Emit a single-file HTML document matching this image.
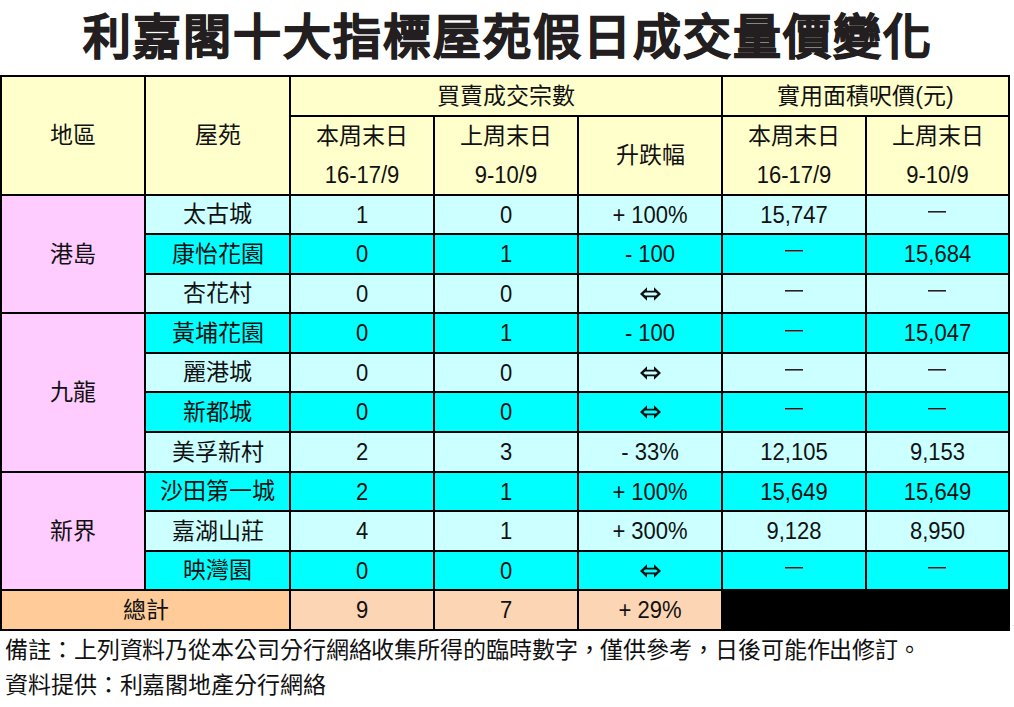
<!DOCTYPE html>
<html lang="zh-TW"><head><meta charset="utf-8"><style>
html,body{margin:0;padding:0;background:#fff;}
body{width:1014px;height:707px;position:relative;overflow:hidden;font-family:"Liberation Sans",sans-serif;color:#111;}
.r{position:absolute;}
.t,.n,.d,.a{position:absolute;text-align:center;white-space:nowrap;}
.t{font-size:23px;}
.n{font-size:22px;}
.n span{display:inline-block;transform:scaleY(1.1);}
.ar{position:absolute;}
.d{font-size:20px;}
.a{font-size:20px;font-weight:bold;}
.title{position:absolute;left:83px;top:8px;font-size:48px;letter-spacing:2px;font-weight:900;color:#231f20;-webkit-text-stroke:0.9px #231f20;white-space:nowrap;line-height:60px;}
.note{position:absolute;left:5px;font-size:23px;letter-spacing:-0.1px;white-space:nowrap;color:#111;}
</style></head>
<body>
<div class="title">利嘉閣十大指標屋苑假日成交量價變化</div>
<div class="r" style="left:0px;top:75px;width:1010px;height:119px;background:#FFFFCC"></div><div class="r" style="left:0px;top:194px;width:144px;height:395px;background:#FFCCFF"></div><div class="r" style="left:144px;top:194px;width:866px;height:39px;background:#CCFFFF"></div><div class="r" style="left:144px;top:233px;width:866px;height:40px;background:#00FFFF"></div><div class="r" style="left:144px;top:273px;width:866px;height:39px;background:#CCFFFF"></div><div class="r" style="left:144px;top:312px;width:866px;height:40px;background:#00FFFF"></div><div class="r" style="left:144px;top:352px;width:866px;height:39px;background:#CCFFFF"></div><div class="r" style="left:144px;top:391px;width:866px;height:40px;background:#00FFFF"></div><div class="r" style="left:144px;top:431px;width:866px;height:40px;background:#CCFFFF"></div><div class="r" style="left:144px;top:471px;width:866px;height:39px;background:#00FFFF"></div><div class="r" style="left:144px;top:510px;width:866px;height:40px;background:#CCFFFF"></div><div class="r" style="left:144px;top:550px;width:866px;height:39px;background:#00FFFF"></div><div class="r" style="left:0px;top:589px;width:289px;height:42px;background:#FFCC99"></div><div class="r" style="left:289px;top:589px;width:432px;height:42px;background:#FCD5B4"></div><div class="r" style="left:721px;top:589px;width:289px;height:42px;background:#000"></div><div class="r" style="left:0px;top:75px;width:1010px;height:2px;background:#000"></div><div class="r" style="left:289px;top:115px;width:721px;height:2px;background:#000"></div><div class="r" style="left:0px;top:194px;width:1010px;height:2px;background:#000"></div><div class="r" style="left:144px;top:233px;width:866px;height:2px;background:#000"></div><div class="r" style="left:144px;top:273px;width:866px;height:2px;background:#000"></div><div class="r" style="left:0px;top:312px;width:1010px;height:2px;background:#000"></div><div class="r" style="left:144px;top:352px;width:866px;height:2px;background:#000"></div><div class="r" style="left:144px;top:391px;width:866px;height:2px;background:#000"></div><div class="r" style="left:144px;top:431px;width:866px;height:2px;background:#000"></div><div class="r" style="left:0px;top:471px;width:1010px;height:2px;background:#000"></div><div class="r" style="left:144px;top:510px;width:866px;height:2px;background:#000"></div><div class="r" style="left:144px;top:550px;width:866px;height:2px;background:#000"></div><div class="r" style="left:0px;top:589px;width:1010px;height:2px;background:#000"></div><div class="r" style="left:0px;top:629px;width:1010px;height:2px;background:#000"></div><div class="r" style="left:0px;top:75px;width:2px;height:556px;background:#000"></div><div class="r" style="left:144px;top:75px;width:2px;height:514px;background:#000"></div><div class="r" style="left:289px;top:75px;width:2px;height:554px;background:#000"></div><div class="r" style="left:433px;top:115px;width:2px;height:514px;background:#000"></div><div class="r" style="left:577px;top:115px;width:2px;height:514px;background:#000"></div><div class="r" style="left:721px;top:75px;width:2px;height:554px;background:#000"></div><div class="r" style="left:865px;top:115px;width:2px;height:474px;background:#000"></div><div class="r" style="left:1008px;top:75px;width:2px;height:556px;background:#000"></div><div class="t" style="left:2px;top:77px;width:142px;height:117px;line-height:117px">地區</div><div class="t" style="left:146px;top:77px;width:143px;height:117px;line-height:117px">屋苑</div><div class="t" style="left:291px;top:77px;width:430px;height:38px;line-height:38px">買賣成交宗數</div><div class="t" style="left:723px;top:77px;width:285px;height:38px;line-height:38px">實用面積呎價(元)</div><div class="t" style="left:291px;top:117px;width:142px;height:38px;line-height:38px">本周末日</div><div class="n" style="left:291px;top:155px;width:142px;height:39px;line-height:39px"><span>16-17/9</span></div><div class="t" style="left:435px;top:117px;width:142px;height:38px;line-height:38px">上周末日</div><div class="n" style="left:435px;top:155px;width:142px;height:39px;line-height:39px"><span>9-10/9</span></div><div class="t" style="left:723px;top:117px;width:142px;height:38px;line-height:38px">本周末日</div><div class="n" style="left:723px;top:155px;width:142px;height:39px;line-height:39px"><span>16-17/9</span></div><div class="t" style="left:867px;top:117px;width:141px;height:38px;line-height:38px">上周末日</div><div class="n" style="left:867px;top:155px;width:141px;height:39px;line-height:39px"><span>9-10/9</span></div><div class="t" style="left:579px;top:117px;width:142px;height:77px;line-height:77px">升跌幅</div><div class="t" style="left:146px;top:196px;width:143px;height:37px;line-height:37px">太古城</div><div class="n" style="left:291px;top:196px;width:142px;height:37px;line-height:37px"><span>1</span></div><div class="n" style="left:435px;top:196px;width:142px;height:37px;line-height:37px"><span>0</span></div><div class="n" style="left:579px;top:196px;width:142px;height:37px;line-height:37px"><span>+ 100%</span></div><div class="n" style="left:723px;top:196px;width:142px;height:37px;line-height:37px"><span>15,747</span></div><div class="r" style="left:928px;top:211px;width:18px;height:2px;background:linear-gradient(#222 0 50%, #777 50% 100%)"></div><div class="t" style="left:146px;top:235px;width:143px;height:38px;line-height:38px">康怡花園</div><div class="n" style="left:291px;top:235px;width:142px;height:38px;line-height:38px"><span>0</span></div><div class="n" style="left:435px;top:235px;width:142px;height:38px;line-height:38px"><span>1</span></div><div class="n" style="left:579px;top:235px;width:142px;height:38px;line-height:38px"><span>- 100</span></div><div class="r" style="left:785px;top:250px;width:18px;height:2px;background:linear-gradient(#222 0 50%, #777 50% 100%)"></div><div class="n" style="left:867px;top:235px;width:141px;height:38px;line-height:38px"><span>15,684</span></div><div class="t" style="left:146px;top:275px;width:143px;height:37px;line-height:37px">杏花村</div><div class="n" style="left:291px;top:275px;width:142px;height:37px;line-height:37px"><span>0</span></div><div class="n" style="left:435px;top:275px;width:142px;height:37px;line-height:37px"><span>0</span></div><svg class="ar" style="left:639.5px;top:286.8px" width="21" height="14" viewBox="0 0 21 13.4"><path fill="#111" fill-rule="evenodd" d="M0,6.7 L7,0 L7,3.5 L14,3.5 L14,0 L21,6.7 L14,13.4 L14,9.9 L7,9.9 L7,13.4 Z M3.3,6.7 L5.3,5.3 L15.7,5.3 L17.7,6.7 L15.7,8.1 L5.3,8.1 Z"/></svg><div class="r" style="left:785px;top:290px;width:18px;height:2px;background:linear-gradient(#222 0 50%, #777 50% 100%)"></div><div class="r" style="left:928px;top:290px;width:18px;height:2px;background:linear-gradient(#222 0 50%, #777 50% 100%)"></div><div class="t" style="left:146px;top:314px;width:143px;height:38px;line-height:38px">黃埔花園</div><div class="n" style="left:291px;top:314px;width:142px;height:38px;line-height:38px"><span>0</span></div><div class="n" style="left:435px;top:314px;width:142px;height:38px;line-height:38px"><span>1</span></div><div class="n" style="left:579px;top:314px;width:142px;height:38px;line-height:38px"><span>- 100</span></div><div class="r" style="left:785px;top:330px;width:18px;height:2px;background:linear-gradient(#222 0 50%, #777 50% 100%)"></div><div class="n" style="left:867px;top:314px;width:141px;height:38px;line-height:38px"><span>15,047</span></div><div class="t" style="left:146px;top:354px;width:143px;height:37px;line-height:37px">麗港城</div><div class="n" style="left:291px;top:354px;width:142px;height:37px;line-height:37px"><span>0</span></div><div class="n" style="left:435px;top:354px;width:142px;height:37px;line-height:37px"><span>0</span></div><svg class="ar" style="left:639.5px;top:365.8px" width="21" height="14" viewBox="0 0 21 13.4"><path fill="#111" fill-rule="evenodd" d="M0,6.7 L7,0 L7,3.5 L14,3.5 L14,0 L21,6.7 L14,13.4 L14,9.9 L7,9.9 L7,13.4 Z M3.3,6.7 L5.3,5.3 L15.7,5.3 L17.7,6.7 L15.7,8.1 L5.3,8.1 Z"/></svg><div class="r" style="left:785px;top:369px;width:18px;height:2px;background:linear-gradient(#222 0 50%, #777 50% 100%)"></div><div class="r" style="left:928px;top:369px;width:18px;height:2px;background:linear-gradient(#222 0 50%, #777 50% 100%)"></div><div class="t" style="left:146px;top:393px;width:143px;height:38px;line-height:38px">新都城</div><div class="n" style="left:291px;top:393px;width:142px;height:38px;line-height:38px"><span>0</span></div><div class="n" style="left:435px;top:393px;width:142px;height:38px;line-height:38px"><span>0</span></div><svg class="ar" style="left:639.5px;top:405.3px" width="21" height="14" viewBox="0 0 21 13.4"><path fill="#111" fill-rule="evenodd" d="M0,6.7 L7,0 L7,3.5 L14,3.5 L14,0 L21,6.7 L14,13.4 L14,9.9 L7,9.9 L7,13.4 Z M3.3,6.7 L5.3,5.3 L15.7,5.3 L17.7,6.7 L15.7,8.1 L5.3,8.1 Z"/></svg><div class="r" style="left:785px;top:408px;width:18px;height:2px;background:linear-gradient(#222 0 50%, #777 50% 100%)"></div><div class="r" style="left:928px;top:408px;width:18px;height:2px;background:linear-gradient(#222 0 50%, #777 50% 100%)"></div><div class="t" style="left:146px;top:433px;width:143px;height:38px;line-height:38px">美孚新村</div><div class="n" style="left:291px;top:433px;width:142px;height:38px;line-height:38px"><span>2</span></div><div class="n" style="left:435px;top:433px;width:142px;height:38px;line-height:38px"><span>3</span></div><div class="n" style="left:579px;top:433px;width:142px;height:38px;line-height:38px"><span>- 33%</span></div><div class="n" style="left:723px;top:433px;width:142px;height:38px;line-height:38px"><span>12,105</span></div><div class="n" style="left:867px;top:433px;width:141px;height:38px;line-height:38px"><span>9,153</span></div><div class="t" style="left:146px;top:473px;width:143px;height:37px;line-height:37px">沙田第一城</div><div class="n" style="left:291px;top:473px;width:142px;height:37px;line-height:37px"><span>2</span></div><div class="n" style="left:435px;top:473px;width:142px;height:37px;line-height:37px"><span>1</span></div><div class="n" style="left:579px;top:473px;width:142px;height:37px;line-height:37px"><span>+ 100%</span></div><div class="n" style="left:723px;top:473px;width:142px;height:37px;line-height:37px"><span>15,649</span></div><div class="n" style="left:867px;top:473px;width:141px;height:37px;line-height:37px"><span>15,649</span></div><div class="t" style="left:146px;top:512px;width:143px;height:38px;line-height:38px">嘉湖山莊</div><div class="n" style="left:291px;top:512px;width:142px;height:38px;line-height:38px"><span>4</span></div><div class="n" style="left:435px;top:512px;width:142px;height:38px;line-height:38px"><span>1</span></div><div class="n" style="left:579px;top:512px;width:142px;height:38px;line-height:38px"><span>+ 300%</span></div><div class="n" style="left:723px;top:512px;width:142px;height:38px;line-height:38px"><span>9,128</span></div><div class="n" style="left:867px;top:512px;width:141px;height:38px;line-height:38px"><span>8,950</span></div><div class="t" style="left:146px;top:552px;width:143px;height:37px;line-height:37px">映灣園</div><div class="n" style="left:291px;top:552px;width:142px;height:37px;line-height:37px"><span>0</span></div><div class="n" style="left:435px;top:552px;width:142px;height:37px;line-height:37px"><span>0</span></div><svg class="ar" style="left:639.5px;top:563.8px" width="21" height="14" viewBox="0 0 21 13.4"><path fill="#111" fill-rule="evenodd" d="M0,6.7 L7,0 L7,3.5 L14,3.5 L14,0 L21,6.7 L14,13.4 L14,9.9 L7,9.9 L7,13.4 Z M3.3,6.7 L5.3,5.3 L15.7,5.3 L17.7,6.7 L15.7,8.1 L5.3,8.1 Z"/></svg><div class="r" style="left:785px;top:567px;width:18px;height:2px;background:linear-gradient(#222 0 50%, #777 50% 100%)"></div><div class="r" style="left:928px;top:567px;width:18px;height:2px;background:linear-gradient(#222 0 50%, #777 50% 100%)"></div><div class="t" style="left:2px;top:196px;width:142px;height:117px;line-height:117px">港島</div><div class="t" style="left:2px;top:314px;width:142px;height:156px;line-height:156px">九龍</div><div class="t" style="left:2px;top:473px;width:142px;height:116px;line-height:116px">新界</div><div class="t" style="left:2px;top:591px;width:287px;height:38px;line-height:38px">總計</div><div class="n" style="left:291px;top:591px;width:142px;height:38px;line-height:38px"><span>9</span></div><div class="n" style="left:435px;top:591px;width:142px;height:38px;line-height:38px"><span>7</span></div><div class="n" style="left:579px;top:591px;width:142px;height:38px;line-height:38px"><span>+ 29%</span></div>
<div class="note" style="top:635px;line-height:30px">備註：上列資料乃從本公司分行網絡收集所得的臨時數字，僅供參考，日後可能作出修訂。</div><div class="note" style="top:670px;line-height:30px">資料提供：利嘉閣地產分行網絡</div>
</body></html>
